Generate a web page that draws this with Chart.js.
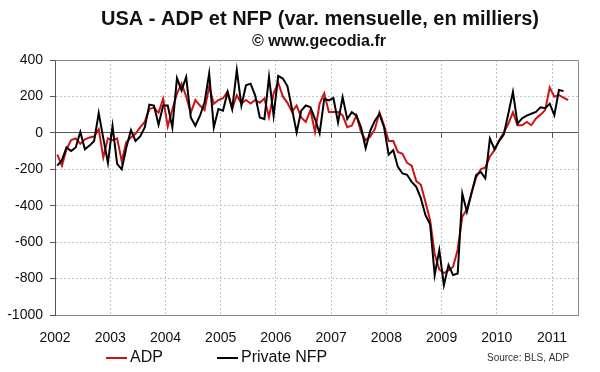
<!DOCTYPE html>
<html>
<head>
<meta charset="utf-8">
<script src="https://cdn.jsdelivr.net/npm/chart.js@4.4.0/dist/chart.umd.min.js"></script>
<style>
  html, body { margin: 0; padding: 0; background: #fff; }
</style>
</head>
<body>
<canvas id="chart" width="600" height="372"></canvas>
<script>
// monthly values, first point = Jan 2002
const startYear = 2002;
const yearLabels = ['2002', '2003', '2004', '2005', '2006', '2007', '2008', '2009', '2010', '2011'];
const yTickValues = [400, 200, 0, -200, -400, -600, -800, -1000];

const adp = [
  -120, -180, -90, -40, -30, -60, -35, -25, -20, 20, -135, -30,      // 2002
  -40, -30, -155, -50, -25, -5, 30, 60, 130, 140, 110, 187,          // 2003
  35, 130, 215, 270, 200, 110, 180, 150, 125, 254, 160, 180,         // 2004
  190, 226, 133, 207, 161, 180, 161, 180, 165, 189, 87, 217,         // 2005
  275, 200, 165, 115, 150, 85, 60, 125, 5, 161, 217, 115,            // 2006
  115, 115, 96, 31, 40, 96, 4, -40, -20, 20, 113, 40,                // 2007
  -45, -45, -105, -115, -165, -180, -265, -285, -380, -480, -665, -750, // 2008
  -770, -755, -735, -640, -460, -420, -330, -245, -200, -190, -130, -95, // 2009
  -40, 0, 50, 113, 42, 42, 60, 42, 79, 100, 125, 249,                // 2010
  198, 207, 194, 180                                                 // 2011
];

const nfp = [
  -180, -150, -80, -100, -80, 5, -90, -70, -45, 108, -30, -165,      // 2002
  38, -170, -200, -80, 15, -45, -20, 30, 155, 150, 45, 150,          // 2003
  150, 30, 300, 233, 307, 85, 39, 94, 168, 326, 30, 131,             // 2004
  122, 224, 131, 344, 150, 261, 270, 205, 85, 76, 307, 94,           // 2005
  313, 298, 257, 131, 2, 122, 150, 141, 76, -2, 187, 178,            // 2006
  191, 57, 196, 76, 113, 94, 30, -85, 11, 67, 104, 30,               // 2007
  -120, -95, -187, -223, -230, -269, -296, -360, -452, -500, -781, -644, // 2008
  -836, -726, -781, -772, -333, -434, -332, -232, -214, -250, -31, -90,  // 2009
  -45, -10, 105, 225, 50, 80, 95, 105, 115, 140, 135, 160,           // 2010
  97, 235, 229                                                       // 2011
];

const FONT = 'Liberation Sans, Arial, sans-serif';
Chart.defaults.font.family = FONT;
Chart.defaults.color = '#111';

function toPoints(values) {
  return values.map((v, i) => ({ x: startYear + (i + 0.5) / 12, y: v }));
}

const xMin = 2002, xMax = 2011.47;

// frame, titles, legend and source note
const decorations = {
  id: 'decorations',
  beforeDatasetsDraw(chart) {
    const { ctx, chartArea: a } = chart;
    ctx.save();
    ctx.strokeStyle = '#8a8a8a';
    ctx.lineWidth = 1;
    ctx.beginPath();
    ctx.moveTo(a.left, Math.round(a.top) + 0.5);
    ctx.lineTo(Math.round(a.right) + 0.5, Math.round(a.top) + 0.5);
    ctx.lineTo(Math.round(a.right) + 0.5, a.bottom);
    ctx.stroke();
    ctx.restore();
  },
  afterDraw(chart) {
    const ctx = chart.ctx;
    ctx.save();
    ctx.fillStyle = '#111';
    ctx.textAlign = 'center';
    ctx.textBaseline = 'middle';
    ctx.font = 'bold 20px ' + FONT;
    ctx.fillText('USA - ADP et NFP (var. mensuelle, en milliers)', 320, 19);
    ctx.font = 'bold 16px ' + FONT;
    ctx.fillText('\u00A9 www.gecodia.fr', 319, 42);

    // legend
    const items = chart.data.datasets;
    const legendX = [106, 217];
    ctx.textAlign = 'left';
    ctx.font = '16px ' + FONT;
    items.forEach((ds, k) => {
      const x = legendX[k], y = 358;
      ctx.strokeStyle = ds.borderColor;
      ctx.lineWidth = 2;
      ctx.beginPath();
      ctx.moveTo(x, y);
      ctx.lineTo(x + 21, y);
      ctx.stroke();
      ctx.fillStyle = '#111';
      ctx.fillText(ds.label, x + 24, y);
    });

    ctx.font = '10px ' + FONT;
    ctx.fillStyle = '#333';
    ctx.fillText('Source: BLS, ADP', 487, 358);
    ctx.restore();
  }
};

new Chart(document.getElementById('chart'), {
  type: 'line',
  data: {
    datasets: [
      {
        label: 'ADP',
        data: toPoints(adp),
        borderColor: '#cc1414',
        borderWidth: 2,
        pointRadius: 0,
        tension: 0,
        order: 1
      },
      {
        label: 'Private NFP',
        data: toPoints(nfp),
        borderColor: '#000000',
        borderWidth: 2,
        pointRadius: 0,
        tension: 0,
        order: 0
      }
    ]
  },
  options: {
    responsive: false,
    animation: false,
    layout: { padding: { top: 60, right: 22, left: 0, bottom: 0 } },
    plugins: {
      legend: { display: false },
      title: { display: false },
      tooltip: { enabled: false }
    },
    scales: {
      x: {
        type: 'linear',
        min: xMin,
        max: xMax,
        afterBuildTicks: s => { s.ticks = yearLabels.map(l => ({ value: +l })); },
        afterFit: s => { s.height = 57; },
        ticks: {
          font: { size: 14 },
          padding: 15,
          maxRotation: 0,
          callback: v => yearLabels.find(l => +l === v) || ''
        },
        grid: { color: '#c4c4c4', drawTicks: false },
        border: { color: '#8a8a8a', dash: [2, 2] }
      },
      xz: {
        type: 'linear',
        position: { y: 0 },
        min: xMin,
        max: xMax,
        afterBuildTicks: s => { s.ticks = yearLabels.map(l => ({ value: +l })); },
        ticks: { display: false },
        grid: { drawOnChartArea: false, drawTicks: true, tickLength: 5, tickColor: '#555', tickBorderDash: [] },
        border: { color: '#555', width: 1 }
      },
      y: {
        min: -1000,
        max: 400,
        afterBuildTicks: s => { s.ticks = yTickValues.map(v => ({ value: v })); },
        afterFit: s => { s.width = 55; },
        ticks: { font: { size: 14 }, padding: 7, callback: v => String(v) },
        grid: { color: '#c4c4c4', tickLength: 5, tickColor: '#555', tickBorderDash: [] },
        border: { color: '#555', dash: [2, 2] }
      }
    }
  },
  plugins: [decorations]
});
</script>
</body>
</html>
